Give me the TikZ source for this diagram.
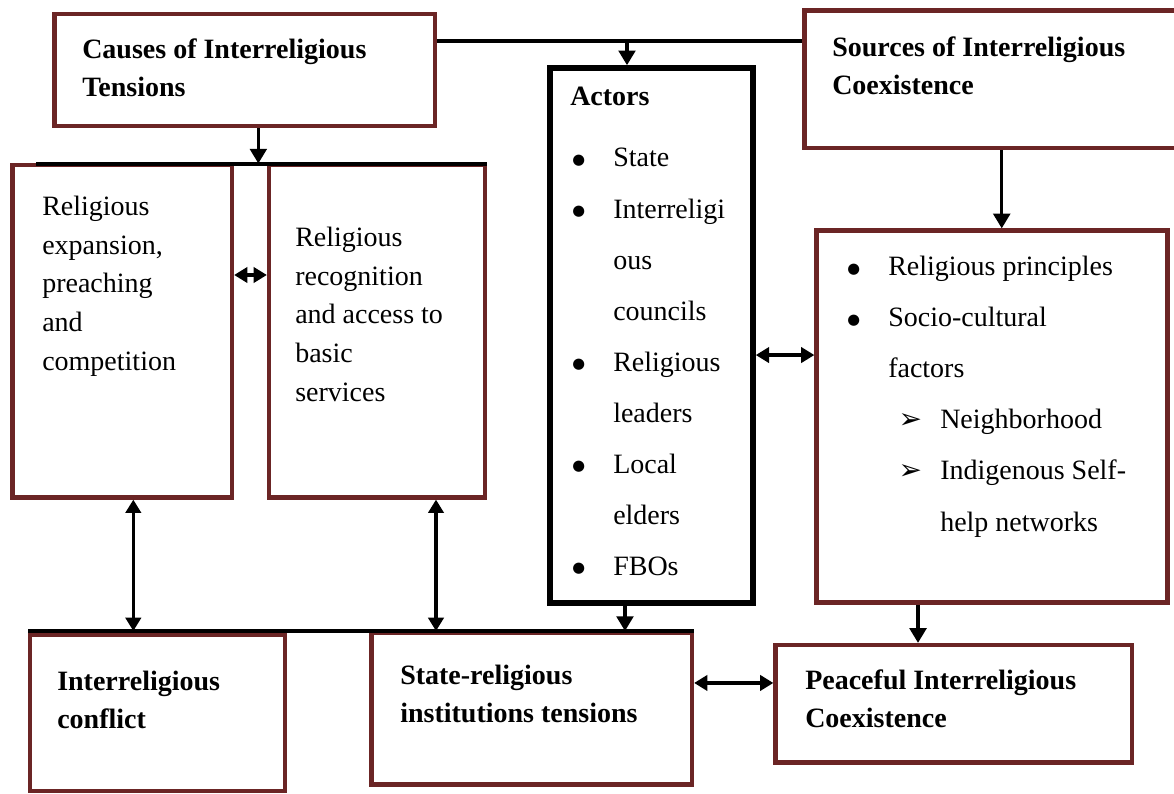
\documentclass[tikz,border=0pt]{standalone}
\usepackage{fontspec}
\setmainfont{Liberation Serif}
\newfontfamily\dejavu{DejaVu Sans}
\usetikzlibrary{arrows.meta,fit}
\definecolor{boxred}{RGB}{107,37,37}
\newcommand{\bul}{\makebox[30.75pt][l]{\raisebox{2pt}{\dejavu\fontsize{11}{11}\selectfont ●}}}
\newcommand{\bulgap}{\hspace*{30.75pt}}
\newcommand{\subbul}{\hspace*{38.5pt}\makebox[31.25pt][l]{\dejavu\fontsize{21}{21}\selectfont ➢}}
\newcommand{\subgap}{\hspace*{69.75pt}}
\begin{document}
\begin{tikzpicture}[x=0.75pt,y=-0.75pt,
  box/.style={draw=boxred,line width=3.2pt,inner sep=0pt},
  actbox/.style={draw=black,line width=4.2pt,inner sep=0pt},
  bus/.style={line width=3pt},
  tip/.style={line width=2.4pt,-{Triangle[length=11pt,width=12.5pt]}},
  both/.style={line width=2.4pt,{Triangle[length=10pt,width=11.5pt]}-{Triangle[length=10pt,width=11.5pt]}},
  head/.style={anchor=base west,inner sep=0pt,align=left,font=\bfseries\fontsize{21}{28.5}\selectfont},
  txt/.style={anchor=base west,inner sep=0pt,align=left,font=\fontsize{21}{28.9}\selectfont},
  lst/.style={anchor=base west,inner sep=0pt,align=left,font=\fontsize{21}{38.3}\selectfont}]
\clip (0,0) rectangle (1174,793);
\fill[white] (0,0) rectangle (1174,793);
% boxes
\node[box, fit={(54.5,14) (435,126)}] (causes) {};
\node[box, fit={(804.5,10.5) (1190,148)}] (sources) {};
\node[actbox, fit={(550,68) (753,603)}] (actors) {};
\node[box, fit={(12.5,165) (232,497.5)}] (expan) {};
\node[box, fit={(269,165) (485,497.5)}] (recog) {};
\node[box, fit={(816.5,230.5) (1167.5,602.5)}] (princ) {};
\node[box, fit={(30,635) (285,791)}] (conflict) {};
\node[box, fit={(371.5,632.5) (692,784.5)}] (statebox) {};
\node[box, fit={(775.5,645) (1132,762.5)}] (peace) {};
% bus lines
\coordinate (topbus) at (627,40.7);
\coordinate (midbus) at (36,163.5);
\coordinate (lowbus) at (28,631);
\draw[bus] (causes.east |- topbus) -- (sources.west |- topbus);
\draw[bus] (midbus) -- (recog.north east |- midbus);
\draw[bus] (lowbus) -- (statebox.north east |- lowbus);
% arrows
\draw[tip] (topbus) -- (topbus |- actors.north);
\draw[tip] ([xshift=10.2pt]causes.south) -- ([xshift=10.2pt]causes.south |- midbus);
\draw[tip] ([xshift=7.3pt]princ.north |- sources.south) -- ([xshift=7.3pt]princ.north);
\draw[tip] ([xshift=-19.9pt]actors.south) -- ([xshift=-19.9pt]actors.south |- lowbus);
\draw[tip] ([xshift=-26.8pt]peace.north |- princ.south) -- ([xshift=-26.8pt]peace.north);
\draw[both] ([yshift=42.2pt]expan.east) -- ([yshift=42.2pt]expan.east -| recog.west);
\draw[both] ([yshift=46.1pt]princ.west -| actors.east) -- ([yshift=46.1pt]princ.west);
\draw[both] ([yshift=15.6pt]peace.west -| statebox.east) -- ([yshift=15.6pt]peace.west);
\draw[both] ([xshift=8.3pt]expan.south) -- ([xshift=8.3pt]expan.south |- lowbus);
\draw[both] ([xshift=44.25pt]recog.south) -- ([xshift=44.25pt]recog.south |- lowbus);
% texts (placed at the baseline of their last line)
\node[head] (causesT) at (82,96) {Causes of Interreligious\\Tensions};
\node[head] (sourcesT) at (832,94) {Sources of Interreligious\\Coexistence};
\node[head] (actorsT) at (570,105) {Actors};
\node[lst] (actorsL) at (572,575.5) {\bul State\\\bul Interreligi\\\bulgap ous\\\bulgap councils\\\bul Religious\\\bulgap leaders\\\bul Local\\\bulgap elders\\\bul FBOs};
\node[txt] (expanT) at (42,370) {Religious\\expansion,\\preaching\\and\\competition};
\node[txt] (recogT) at (295,401) {Religious\\recognition\\and access to\\basic\\services};
\node[lst] (princL) at (847,531) {\bul Religious principles\\\bul Socio-cultural\\\bulgap factors\\\subbul Neighborhood\\\subbul Indigenous Self-\\\subgap help networks};
\node[head] (conflictT) at (57,728) {Interreligious\\conflict};
\node[head] (stateT) at (400,722) {State-religious\\institutions tensions};
\node[head] (peaceT) at (805,727) {Peaceful Interreligious\\Coexistence};
\end{tikzpicture}
\end{document}
